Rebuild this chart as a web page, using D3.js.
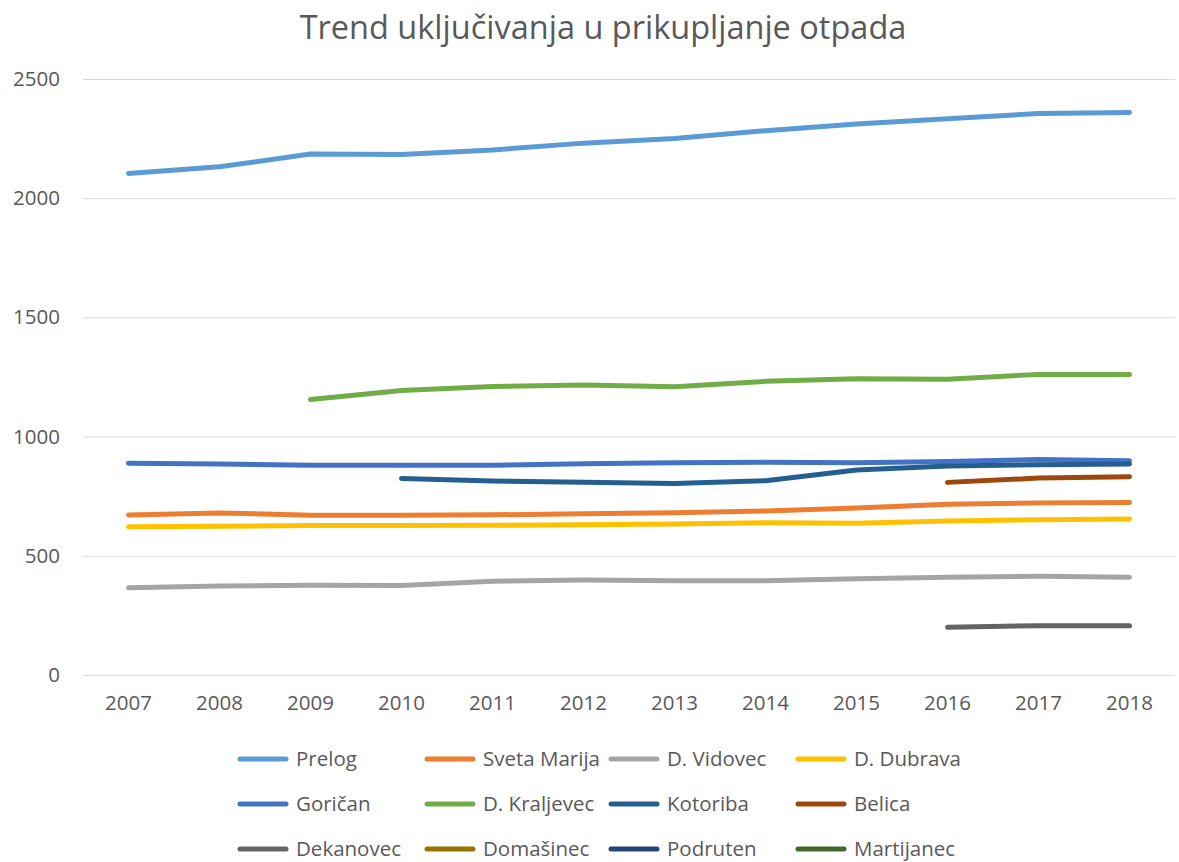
<!DOCTYPE html>
<html><head><meta charset="utf-8">
<script src="https://cdn.jsdelivr.net/npm/d3@7"></script>
<style>body{margin:0;background:#fff}svg{display:block}</style>
</head><body><svg id="c" width="1179" height="862"></svg>
<script>
const years = ["2007","2008","2009","2010","2011","2012","2013","2014","2015","2016","2017","2018"];
const yTicks = [0,500,1000,1500,2000,2500];
const seriesNames = ["Prelog","Sveta Marija","D. Vidovec","D. Dubrava","Goričan","D. Kraljevec","Kotoriba","Belica","Dekanovec","Domašinec","Podruten","Martijanec"];
const prelog      = [2104,2132,2185,2183,2202,2231,2250,2283,2311,2333,2355,2360];
const svetaMarija = [671,680,670,670,672,676,681,688,700,716,722,724];
const dVidovec    = [366,373,376,375,393,398,395,395,404,410,414,410];
const dDubrava    = [622,624,627,627,628,630,633,639,637,646,651,654];
const gorican     = [888,885,880,880,880,886,890,892,890,896,904,899];
const dKraljevec  = [null,null,1156,1193,1210,1216,1209,1232,1243,1241,1261,1261];
const kotoriba    = [null,null,null,824,814,808,803,815,860,877,882,885];
const belica      = [null,null,null,null,null,null,null,null,null,808,826,832];
const dekanovec   = [null,null,null,null,null,null,null,null,null,200,207,207];
const domasinec   = [null,null,null,null,null,null,null,null,null,null,null,null];
const podruten    = [null,null,null,null,null,null,null,null,null,null,null,null];
const martijanec  = [null,null,null,null,null,null,null,null,null,null,null,null];
const colors = ["#5B9BD5","#ED7D31","#A5A5A5","#FFC000","#4472C4","#70AD47","#255E91","#9E480E","#636363","#997300","#264478","#43682B"];

(function(){
const seriesValues = [prelog,svetaMarija,dVidovec,dDubrava,gorican,dKraljevec,kotoriba,belica,dekanovec,domasinec,podruten,martijanec];
const series = seriesNames.map((n,i)=>({name:n,values:seriesValues[i],color:colors[i]}));

const svg = d3.select("#c");
const font = "'Open Sans', sans-serif";
const pLeft=83, pRight=1175, pTop=79, pBottom=675;
const x = d3.scaleBand().domain(years).range([pLeft,pRight]);
const y = d3.scaleLinear().domain([0,2500]).range([pBottom,pTop]);

svg.append("text").attr("x",603).attr("y",39).attr("text-anchor","middle")
  .attr("font-family",font).attr("font-size",32.5).attr("fill","#595959")
  .text("Trend uključivanja u prikupljanje otpada");

svg.append("g").selectAll("line").data(yTicks).join("line")
  .attr("x1",pLeft).attr("x2",pRight).attr("y1",d=>y(d)+0.5).attr("y2",d=>y(d)+0.5)
  .attr("stroke","#d9d9d9").attr("stroke-width",1);

const yAxis = svg.append("g").attr("transform",`translate(${pLeft},0)`)
  .call(d3.axisLeft(y).tickValues(yTicks).tickFormat(d3.format("d")).tickSize(0).tickPadding(23));
yAxis.select(".domain").remove();
yAxis.selectAll("text").attr("font-family",font).attr("font-size",20.5).attr("fill","#595959");

const xAxis = svg.append("g").attr("transform",`translate(0,${pBottom})`)
  .call(d3.axisBottom(x).tickSize(0).tickPadding(20));
xAxis.select(".domain").remove();
xAxis.selectAll("text").attr("font-family",font).attr("font-size",20.5).attr("fill","#595959");

const line = d3.line().defined(d=>d!=null)
  .x((d,i)=>x(years[i])+x.bandwidth()/2).y(d=>y(d));

svg.append("g").selectAll("path").data(series).join("path")
  .attr("d",s=>line(s.values)).attr("fill","none").attr("stroke",s=>s.color)
  .attr("stroke-width",5).attr("stroke-linecap","round").attr("stroke-linejoin","round");

const colX=[238,425,609,796], rowY=[759,804,849];
const lg = svg.append("g").selectAll("g").data(series).join("g")
  .attr("transform",(s,i)=>`translate(${colX[i%4]},${rowY[Math.floor(i/4)]})`);
lg.append("line").attr("x1",2).attr("x2",48).attr("y1",0).attr("y2",0)
  .attr("stroke",s=>s.color).attr("stroke-width",5).attr("stroke-linecap","round");
lg.append("text").attr("x",58).attr("y",0).attr("dy","0.35em")
  .attr("font-family",font).attr("font-size",20.5).attr("fill","#595959").text(s=>s.name);
})();
</script></body></html>
